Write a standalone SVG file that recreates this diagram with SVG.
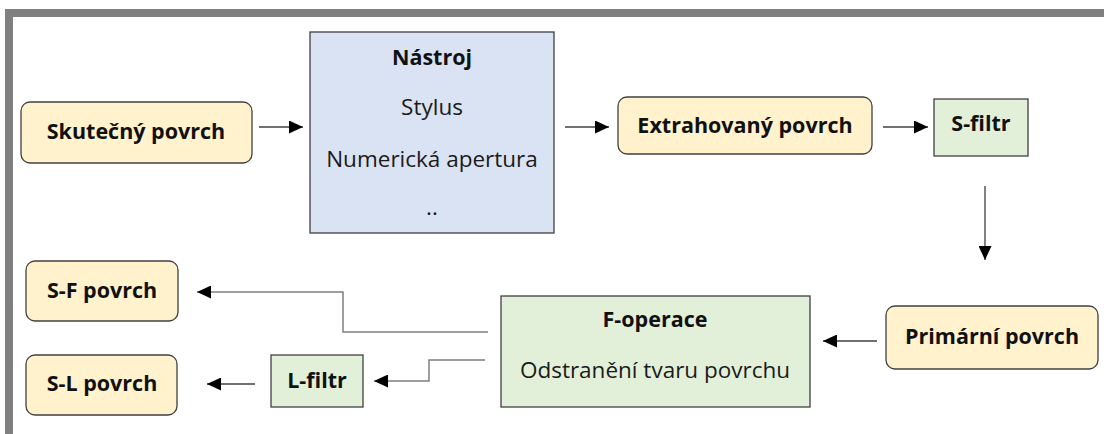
<svg xmlns="http://www.w3.org/2000/svg" width="1104" height="434" viewBox="0 0 1104 434">
<style>
.frame{fill:#808080}
.cream{fill:#fff2cc;stroke:#404040;stroke-width:1.3}
.blue{fill:#dae3f3;stroke:#404040;stroke-width:1.3}
.green{fill:#e2f0d9;stroke:#404040;stroke-width:1.3}
.b{font-family:"Open Sans",sans-serif;font-weight:bold;font-size:21.5px;fill:#111;text-anchor:middle}
.r{font-family:"Open Sans",sans-serif;font-size:22.5px;fill:#1a1a1a;text-anchor:middle}
.c{fill:none;stroke:#404040;stroke-width:1.3}
.cg{fill:none;stroke:#7f7f7f;stroke-width:1.5}
</style>
<defs>
<marker id="ah" markerUnits="userSpaceOnUse" markerWidth="15" markerHeight="13" refX="14" refY="6.5" orient="auto">
<path d="M0,0 L14,6.5 L0,13 Z" fill="#000"/>
</marker>
</defs>
<rect width="1104" height="434" fill="#fff"/>
<rect class="frame" x="5" y="9" width="1099" height="8"/>
<rect class="frame" x="5" y="9" width="8" height="425"/>
<g id="connectors">
<line class="c" x1="259" y1="127" x2="303" y2="127" marker-end="url(#ah)"/>
<line class="c" x1="565" y1="127" x2="609" y2="127" marker-end="url(#ah)"/>
<line class="c" x1="883" y1="127" x2="928" y2="127" marker-end="url(#ah)"/>
<line class="c" x1="985" y1="186" x2="985" y2="260" marker-end="url(#ah)"/>
<line class="c" x1="877" y1="341" x2="823" y2="341" marker-end="url(#ah)"/>
<polyline class="cg" points="488,332 343,332 343,292 197,292" marker-end="url(#ah)"/>
<polyline class="cg" points="485,360 429,360 429,381 374,381" marker-end="url(#ah)"/>
<line class="c" x1="255" y1="384" x2="207" y2="384" marker-end="url(#ah)"/>
</g>
<g id="skutecny">
<rect class="cream" x="21" y="102" width="231" height="61" rx="9"/>
<text class="b" x="136" y="139">Skutečný povrch</text>
</g>
<g id="nastroj">
<rect class="blue" x="310" y="32" width="244" height="201"/>
<text class="b" x="432" y="65">Nástroj</text>
<text class="r" x="432" y="115">Stylus</text>
<text class="r" x="432" y="167">Numerická apertura</text>
<text class="r" x="432" y="215">..</text>
</g>
<g id="extrahovany">
<rect class="cream" x="618" y="97" width="254" height="57" rx="9"/>
<text class="b" x="745" y="133">Extrahovaný povrch</text>
</g>
<g id="sfiltr">
<rect class="green" x="934" y="99" width="94" height="57"/>
<text class="b" x="981" y="131">S-filtr</text>
</g>
<g id="primarni">
<rect class="cream" x="886" y="306" width="212" height="63" rx="9"/>
<text class="b" x="992" y="344">Primární povrch</text>
</g>
<g id="foperace">
<rect class="green" x="501" y="296" width="309" height="111"/>
<text class="b" x="655" y="327">F-operace</text>
<text class="r" x="655" y="378">Odstranění tvaru povrchu</text>
</g>
<g id="lfiltr">
<rect class="green" x="271" y="355" width="92" height="52"/>
<text class="b" x="317" y="388">L-filtr</text>
</g>
<g id="sf">
<rect class="cream" x="26" y="261" width="152" height="60" rx="9"/>
<text class="b" x="102" y="298">S-F povrch</text>
</g>
<g id="sl">
<rect class="cream" x="26" y="355" width="151" height="60" rx="9"/>
<text class="b" x="102" y="391">S-L povrch</text>
</g>
</svg>
